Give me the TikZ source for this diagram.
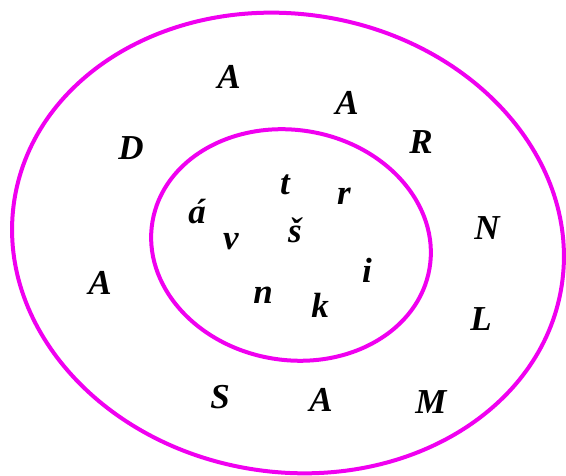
\documentclass[tikz,border=0pt]{standalone}
\usepackage{fontspec}
\setmainfont{Liberation Serif}
\definecolor{ringmag}{RGB}{240,0,240}
\tikzset{
  ring/.style={draw=ringmag, line width=4pt},
  letter/.style={font=\fontsize{35}{38}\selectfont\bfseries\itshape, inner sep=0pt, text=black}
}
\begin{document}
\begin{tikzpicture}[x=1pt,y=1pt]
\useasboundingbox (0,0) rectangle (566,476);
\fill[white] (0,0) rectangle (566,476);
\draw[ring, rotate around={-9:(288,233)}] (288,233) ellipse [x radius=277, y radius=229];
\draw[ring, rotate around={-9.5:(291,231)}] (291,231) ellipse [x radius=140.5, y radius=115];
% outer letters
\node[letter] (a1) at (229,399) {A};
\node[letter] (a2) at (347,373) {A};
\node[letter] (r1) at (421,334) {R};
\node[letter] (d1) at (131,328) {D};
\node[letter] (n1) at (487,248) {N};
\node[letter] (a3) at (100,193) {A};
\node[letter] (l1) at (481,157) {L};
\node[letter] (s1) at (220,79) {S};
\node[letter] (a4) at (321,76) {A};
\node[letter] (m1) at (431,74) {M};
% inner letters
\node[letter] (t2) at (285,291) {t};
\node[letter] (r2) at (344,280) {r};
\node[letter] (a5) at (197,264) {á};
\node[letter] (s2) at (295,246) {š};
\node[letter] (v2) at (231,234) {v};
\node[letter] (i2) at (367,206) {i};
\node[letter] (n2) at (263,181) {n};
\node[letter] (k2) at (320,171) {k};
\end{tikzpicture}
\end{document}
